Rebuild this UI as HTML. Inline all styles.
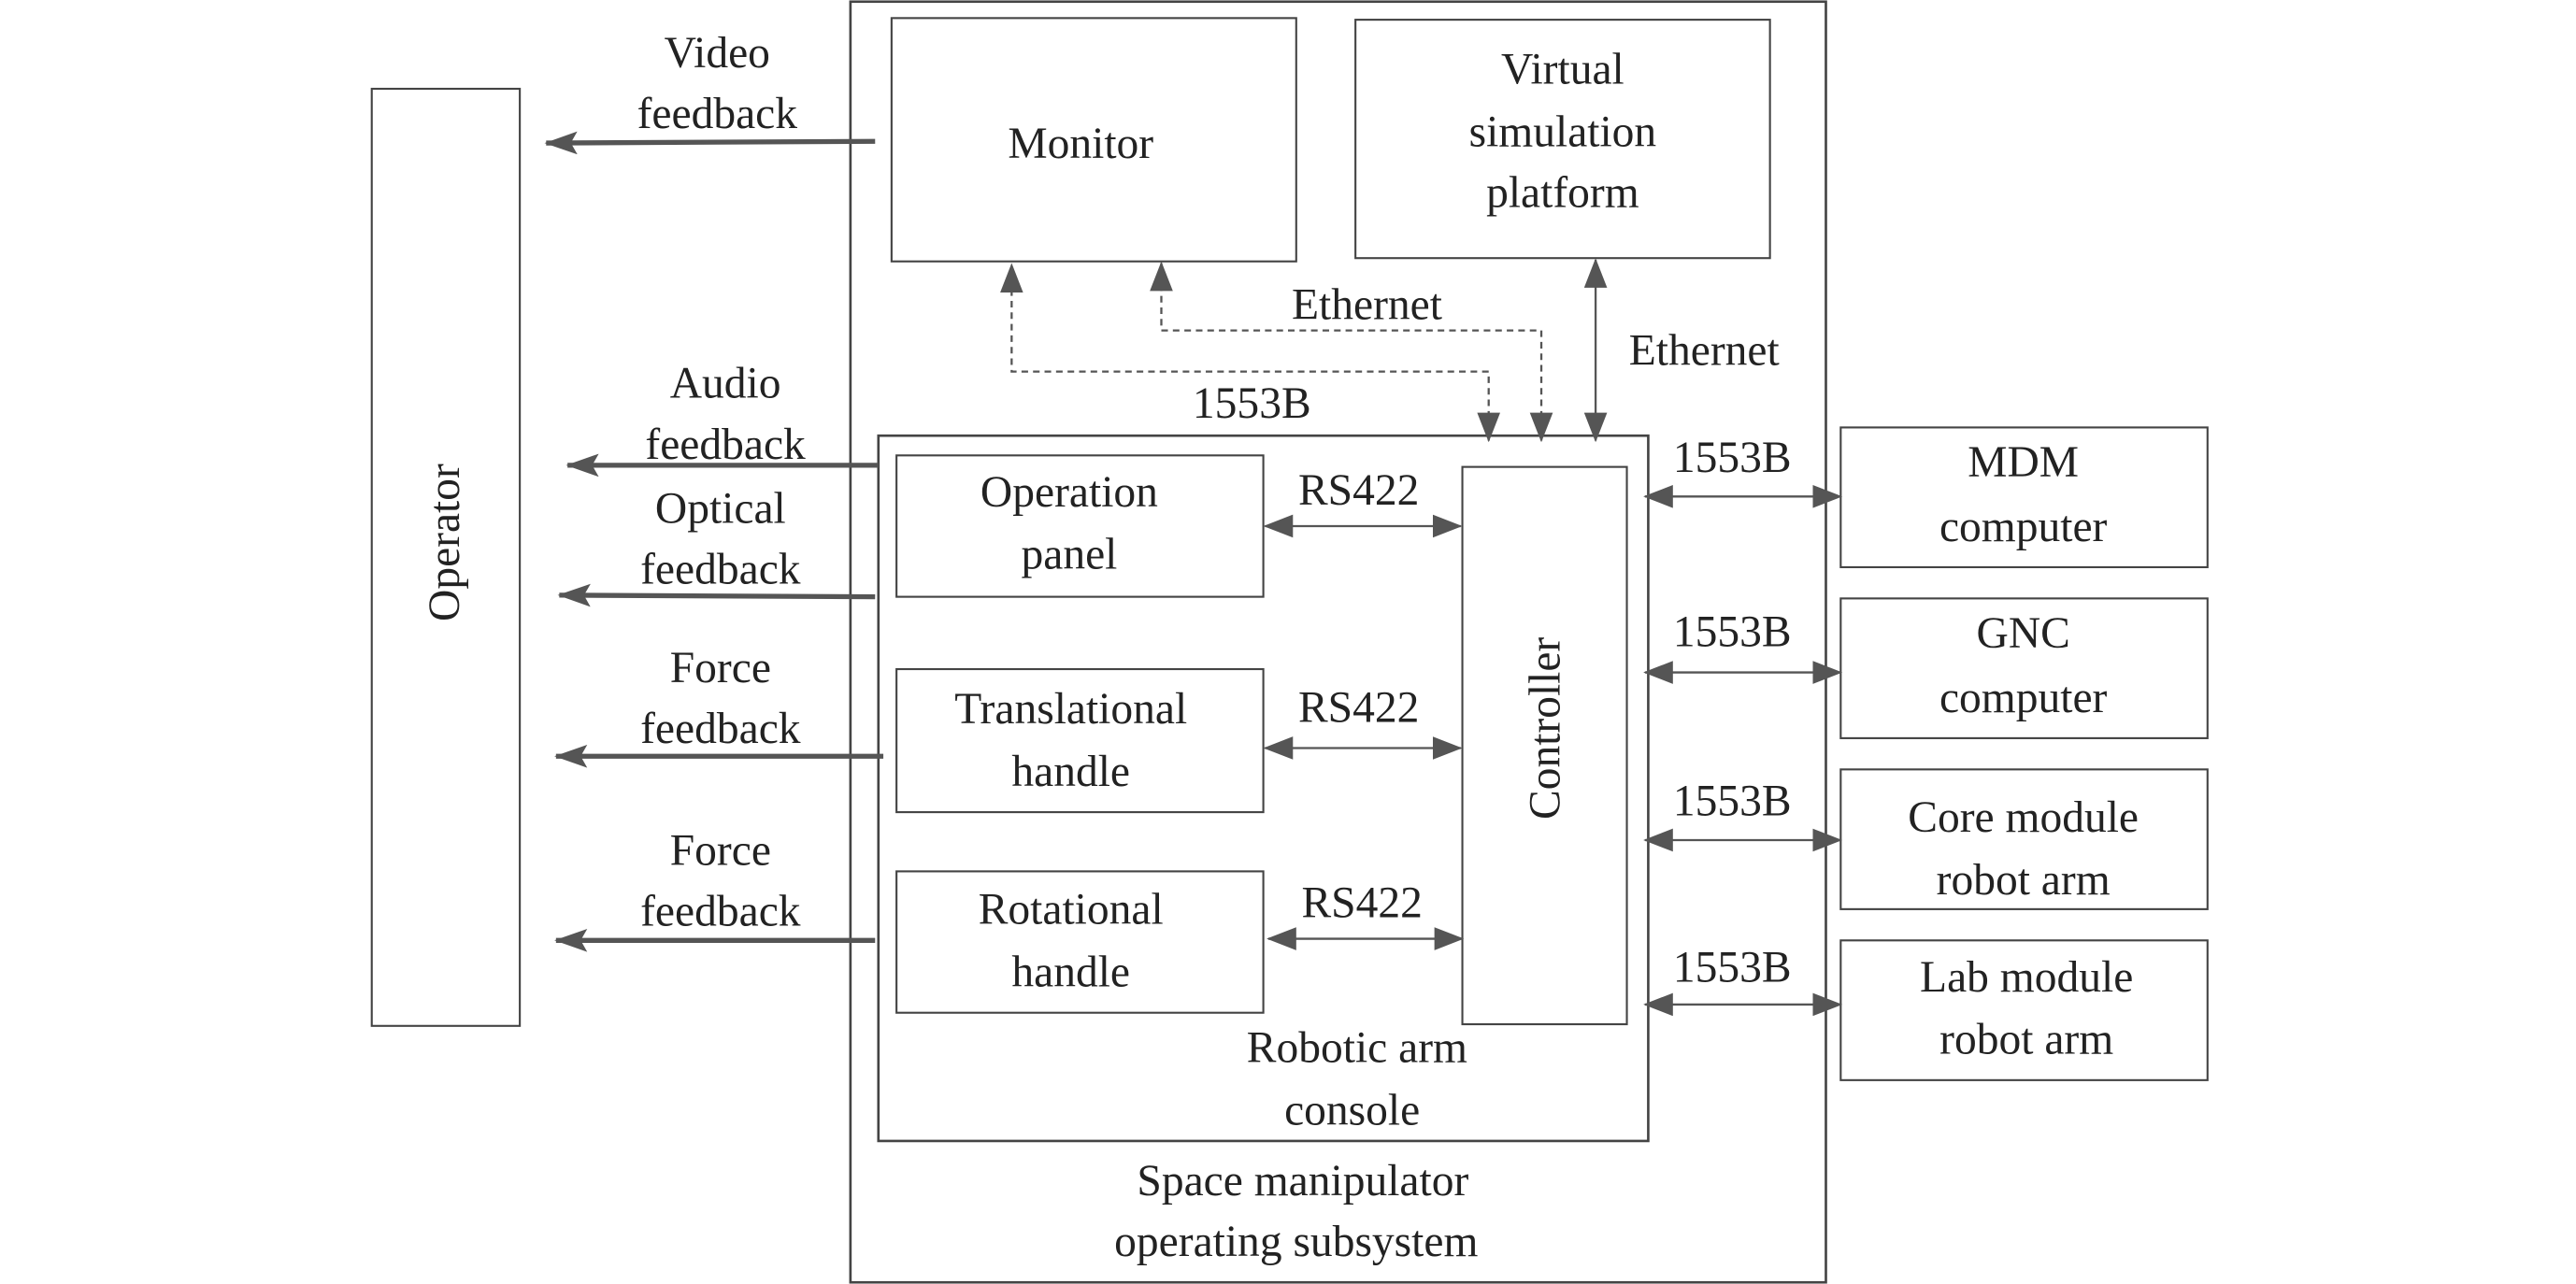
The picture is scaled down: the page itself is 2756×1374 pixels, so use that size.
<!DOCTYPE html>
<html><head><meta charset="utf-8"><style>html,body{margin:0;padding:0;background:#fff;font-family:"Liberation Serif","Times New Roman","DejaVu Serif",serif}svg{display:block}svg text{font-family:"Liberation Serif","Times New Roman","DejaVu Serif",serif}</style></head>
<body>
<svg width="2756" height="1374" viewBox="0 0 1566 781" preserveAspectRatio="none" xmlns="http://www.w3.org/2000/svg" font-family="'Liberation Serif','Times New Roman',serif" font-size="27" fill="#222" text-anchor="middle">
<defs>
<marker id="a" viewBox="0 0 20 14" refX="19" refY="7" markerWidth="20" markerHeight="14" markerUnits="userSpaceOnUse" orient="auto-start-reverse"><path d="M0,0 L20,7 L0,14 L4,7 Z" fill="#555"/></marker>
<marker id="b" viewBox="0 0 18 14" refX="17" refY="7" markerWidth="18" markerHeight="14" markerUnits="userSpaceOnUse" orient="auto-start-reverse"><path d="M0,0 L18,7 L0,14 Z" fill="#555"/></marker>
</defs>
<g fill="none" stroke="#444" stroke-width="1.2">
<rect x="226" y="54" width="90" height="570"/>
<rect x="517" y="1" width="593" height="779" stroke-width="1.5"/>
<rect x="542" y="11" width="246" height="148"/>
<rect x="824" y="12" width="252" height="145"/>
<rect x="534" y="265" width="468" height="429" stroke-width="1.5"/>
<rect x="545" y="277" width="223" height="86"/>
<rect x="545" y="407" width="223" height="87"/>
<rect x="545" y="530" width="223" height="86"/>
<rect x="889" y="284" width="100" height="339"/>
<rect x="1119" y="260" width="223" height="85"/>
<rect x="1119" y="364" width="223" height="85"/>
<rect x="1119" y="468" width="223" height="85"/>
<rect x="1119" y="572" width="223" height="85"/>
</g>
<g stroke="#555" stroke-width="3" fill="none">
<line x1="532" y1="86" x2="332" y2="87" marker-end="url(#a)"/>
<line x1="534" y1="283" x2="345" y2="283" marker-end="url(#a)"/>
<line x1="532" y1="363" x2="340" y2="362" marker-end="url(#a)"/>
<line x1="537" y1="460" x2="338" y2="460" marker-end="url(#a)"/>
<line x1="532" y1="572" x2="338" y2="572" marker-end="url(#a)"/>
</g>
<g stroke="#555" stroke-width="1.3" fill="none">
<line x1="769" y1="320" x2="888" y2="320" marker-start="url(#b)" marker-end="url(#b)"/>
<line x1="769" y1="455" x2="888" y2="455" marker-start="url(#b)" marker-end="url(#b)"/>
<line x1="771" y1="571" x2="889" y2="571" marker-start="url(#b)" marker-end="url(#b)"/>
<line x1="1000" y1="302" x2="1119" y2="302" marker-start="url(#b)" marker-end="url(#b)"/>
<line x1="1000" y1="409" x2="1119" y2="409" marker-start="url(#b)" marker-end="url(#b)"/>
<line x1="1000" y1="511" x2="1119" y2="511" marker-start="url(#b)" marker-end="url(#b)"/>
<line x1="1000" y1="611" x2="1119" y2="611" marker-start="url(#b)" marker-end="url(#b)"/>
<line x1="970" y1="158" x2="970" y2="268" marker-start="url(#b)" marker-end="url(#b)"/>
<polyline points="905,268 905,226 615,226 615,161" stroke-dasharray="4,3" marker-start="url(#b)" marker-end="url(#b)"/>
<polyline points="937,268 937,201 706,201 706,160" stroke-dasharray="4,3" marker-start="url(#b)" marker-end="url(#b)"/>
</g>
<g>
<text x="436" y="41">Video</text><text x="436" y="78">feedback</text>
<text x="441" y="242">Audio</text><text x="441" y="279">feedback</text>
<text x="438" y="318">Optical</text><text x="438" y="355">feedback</text>
<text x="438" y="415">Force</text><text x="438" y="452">feedback</text>
<text x="438" y="526">Force</text><text x="438" y="563">feedback</text>
<text transform="translate(279,330) rotate(-90)">Operator</text>
<text x="657" y="96">Monitor</text>
<text x="950" y="51">Virtual</text><text x="950" y="89">simulation</text><text x="950" y="126">platform</text>
<text x="650" y="308">Operation</text><text x="650" y="346">panel</text>
<text x="651" y="440">Translational</text><text x="651" y="478">handle</text>
<text x="651" y="562">Rotational</text><text x="651" y="600">handle</text>
<text transform="translate(948,443) rotate(-90)">Controller</text>
<text x="826" y="307">RS422</text><text x="826" y="439">RS422</text><text x="828" y="558">RS422</text>
<text x="1053" y="287">1553B</text><text x="1053" y="393">1553B</text><text x="1053" y="496">1553B</text><text x="1053" y="597">1553B</text>
<text x="1230" y="290">MDM</text><text x="1230" y="329">computer</text>
<text x="1230" y="394">GNC</text><text x="1230" y="433">computer</text>
<text x="1230" y="506">Core module</text><text x="1230" y="544">robot arm</text>
<text x="1232" y="603">Lab module</text><text x="1232" y="641">robot arm</text>
<text x="831" y="194">Ethernet</text>
<text x="761" y="254">1553B</text>
<text x="1036" y="222">Ethernet</text>
<text x="825" y="646">Robotic arm</text><text x="822" y="684">console</text>
<text x="792" y="727">Space manipulator</text><text x="788" y="764">operating subsystem</text>
</g>
</svg>
</body></html>
